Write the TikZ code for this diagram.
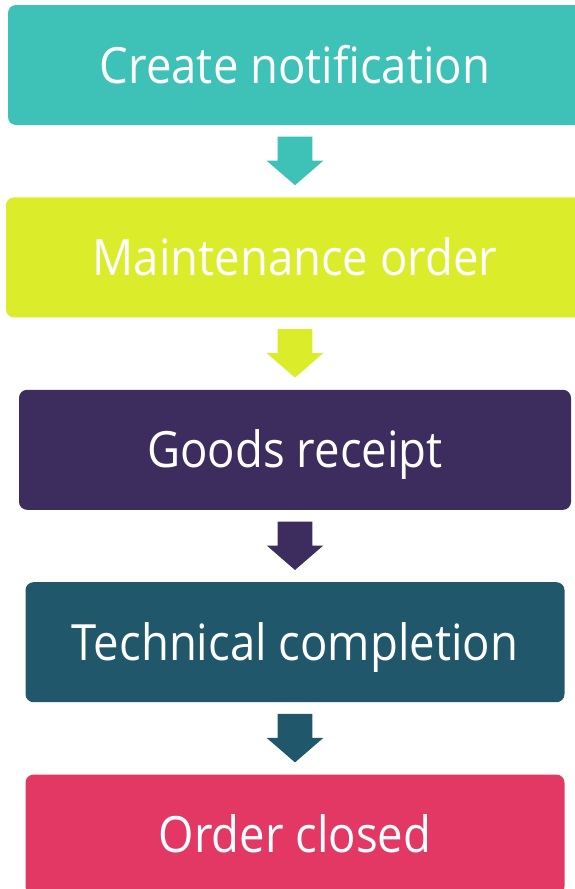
\documentclass[tikz,border=0pt]{standalone}
\usepackage{fontspec}
\setmainfont[FakeStretch=0.91]{Open Sans}
\usetikzlibrary{positioning,calc}
\definecolor{notifteal}{HTML}{3EC1B7}
\definecolor{orderlime}{HTML}{DBEC2A}
\definecolor{receiptpurple}{HTML}{3C2D5E}
\definecolor{techteal}{HTML}{20576A}
\definecolor{closedpink}{HTML}{E33864}
\tikzset{stepbox/.style={rectangle,rounded corners=8pt,minimum height=120pt,
    inner sep=0pt,text=white,font=\fontsize{50}{60}\selectfont,
    text height=36pt,text depth=0pt}}
% block arrow between two boxes
\newcommand\flowarrow[3]{%
  \fill[#3,shift={(#1.south)}] (-17.3pt,-11.5pt) -- (17.3pt,-11.5pt)
    -- (17.3pt,-35.5pt) -- (28.3pt,-35.5pt) -- ($(#2.north)-(#1.south)+(0,12pt)$)
    -- (-28.3pt,-35.5pt) -- (-17.3pt,-35.5pt) -- cycle;}

\begin{document}
\begin{tikzpicture}
  \useasboundingbox (0,0) rectangle (575pt,-889pt);

  \node [stepbox,fill=notifteal,minimum width=574pt] (notif) at (295pt,-65pt) {Create notification};
  \node [stepbox,fill=orderlime,minimum width=578pt,below=72pt of notif] (order) {Maintenance order};
  \node [stepbox,fill=receiptpurple,minimum width=552pt,below=72pt of order] (receipt) {Goods receipt};
  \node [stepbox,fill=techteal,minimum width=539pt,below=72pt of receipt] (tech) {Technical completion};
  \node [stepbox,fill=closedpink,minimum width=539pt,below=72pt of tech] (closed) {Order closed};

  \flowarrow{notif}{order}{notifteal}
  \flowarrow{order}{receipt}{orderlime}
  \flowarrow{receipt}{tech}{receiptpurple}
  \flowarrow{tech}{closed}{techteal}

\end{tikzpicture}
\end{document}
